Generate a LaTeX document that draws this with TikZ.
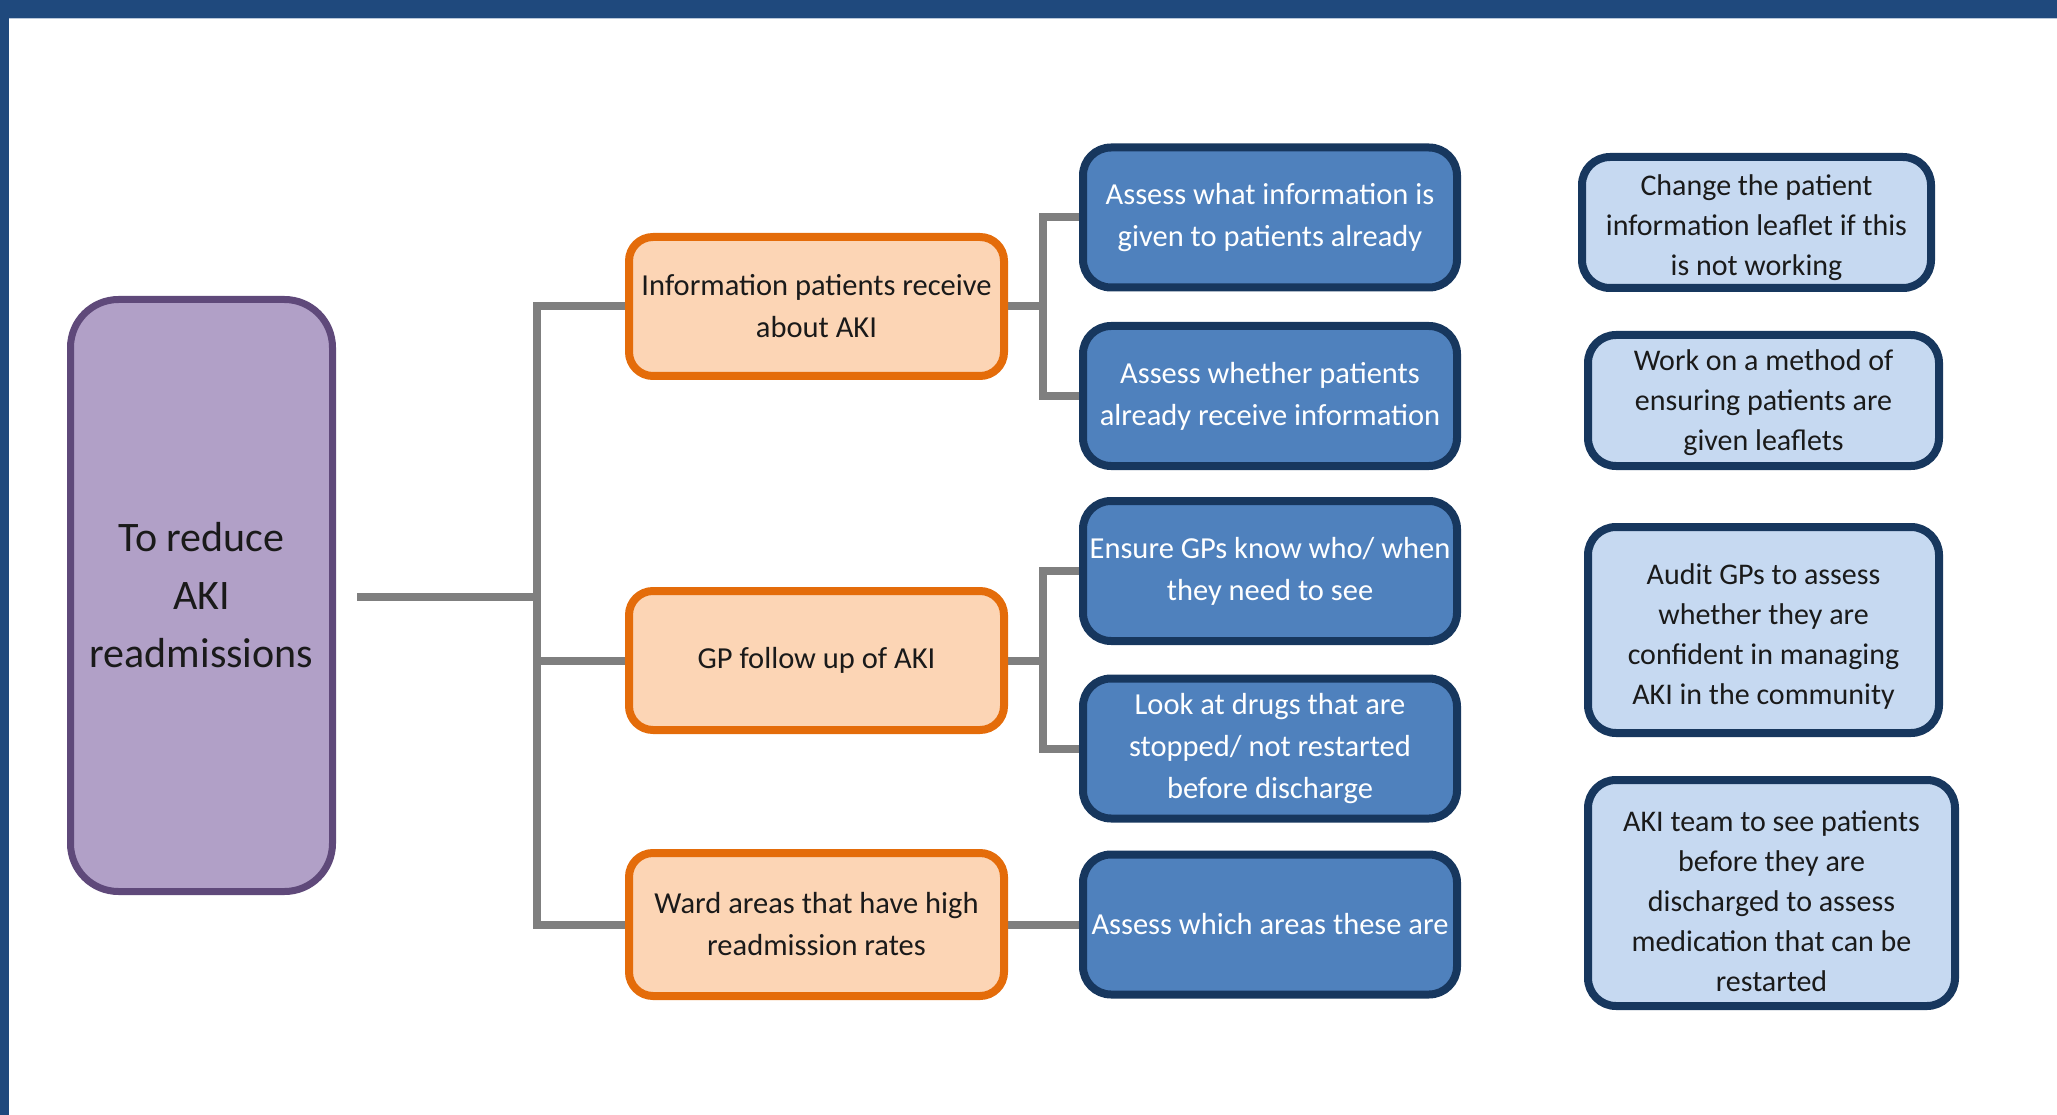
\documentclass[tikz,border=0pt]{standalone}
\usepackage{fontspec}
\setmainfont{Carlito}
\usetikzlibrary{backgrounds}
\definecolor{barblue}{HTML}{1F497D}
\definecolor{barline}{HTML}{B8C7DA}
\definecolor{purfill}{HTML}{B1A0C7}
\definecolor{purdraw}{HTML}{5F497A}
\definecolor{orfill}{HTML}{FCD5B5}
\definecolor{ordraw}{HTML}{E46C0A}
\definecolor{bfill}{HTML}{4F81BD}
\definecolor{bdraw}{HTML}{17375E}
\definecolor{lbfill}{HTML}{C6D9F1}
\definecolor{conn}{HTML}{7F7F7F}
\definecolor{txt}{HTML}{1A1A1A}
\tikzset{
  goalbox/.style={draw=purdraw, fill=purfill, line width=7pt, rounded corners=48pt,
    minimum width=262pt, minimum height=592pt, align=center, inner sep=0pt,
    text=txt, font=\fontsize{42}{58}\selectfont},
  areabox/.style={draw=ordraw, fill=orfill, line width=8pt, rounded corners=24pt,
    minimum width=375pt, minimum height=139pt, align=center, inner sep=0pt,
    text=txt, font=\fontsize{30.5}{42}\selectfont},
  actbox/.style={draw=bdraw, fill=bfill, line width=8pt, rounded corners=28pt,
    minimum width=374pt, minimum height=140pt, align=center, inner sep=0pt,
    text=white, font=\fontsize{30.5}{42}\selectfont},
  ideabox/.style={draw=bdraw, fill=lbfill, line width=8pt, rounded corners=28pt,
    inner sep=0pt},
  ideatext/.style={align=center, inner sep=0pt, text=txt,
    font=\fontsize{30}{40}\selectfont},
  link/.style={draw=conn, line width=8pt, line join=miter}
}
\begin{document}
\begin{tikzpicture}[x=1pt, y=-1pt]
\useasboundingbox (0,0) rectangle (2057,1115);
% frame
\fill[barblue] (0,0) rectangle (2057,18);
\fill[barblue] (0,0) rectangle (9,1115);
\fill[barline] (9,18) rectangle (2057,19.5);

% goal
\node[goalbox] (goal) at (201.5,595.5) {To reduce\\AKI\\readmissions};

% areas
\node[areabox] (o1) at (816.5,306.5) {Information patients receive\\about AKI};
\node[areabox] (o2) at (816.5,660.5) {GP follow up of AKI};
\node[areabox, minimum height=143pt] (o3) at (816.5,924.5) {Ward areas that have high\\readmission rates};

% actions
\node[actbox] (b1) at (1270,217.5) {Assess what information is\\given to patients already};
\node[actbox] (b2) at (1270,396) {Assess whether patients\\already receive information};
\node[actbox] (b3) at (1270,571) {Ensure GPs know who/ when\\they need to see};
\node[actbox] (b4) at (1270,748.5) {Look at drugs that are\\stopped/ not restarted\\before discharge};
\node[actbox] (b5) at (1270,924.5) {Assess which areas these are};

% ideas
\node[ideabox, minimum width=349pt, minimum height=131pt] (l1) at (1756.5,222.5) {};
\node[ideatext] (l1t) at ([yshift=-5pt]l1.center) {Change the patient\\information leaflet if this\\is not working};
\node[ideabox, minimum width=351pt, minimum height=131pt] (l2) at (1763.5,400.5) {};
\node[ideatext] (l2t) at ([yshift=-2pt]l2.center) {Work on a method of\\ensuring patients are\\given leaflets};
\node[ideabox, minimum width=351pt, minimum height=206pt] (l3) at (1763.5,630) {};
\node[ideatext] (l3t) at ([yshift=-6pt]l3.center) {Audit GPs to assess\\whether they are\\confident in managing\\AKI in the community};
\node[ideabox, minimum width=367pt, minimum height=226pt] (l4) at (1771.5,893) {};
\node[ideatext] (l4t) at ([yshift=-8pt]l4.center) {AKI team to see patients\\before they are\\discharged to assess\\medication that can be\\restarted};

% connectors
\coordinate (m0) at (357,597);
\coordinate (bus) at (537,597);
\coordinate (c1) at (1043,306.5);
\coordinate (c2) at (1043,660.5);
\begin{scope}[on background layer]
\draw[link] (m0) -- (bus);
\draw[link] (o1.west) -| (bus) |- (o3.west);
\draw[link] (bus |- o2.west) -- (o2.west);
\draw[link] (o1.east) -- (c1);
\draw[link] (b1.west) -| (c1) |- (b2.west);
\draw[link] (o2.east) -- (c2);
\draw[link] (b3.west) -| (c2) |- (b4.west);
\draw[link] (o3.east) -- (b5.west);
\end{scope}
\end{tikzpicture}
\end{document}
